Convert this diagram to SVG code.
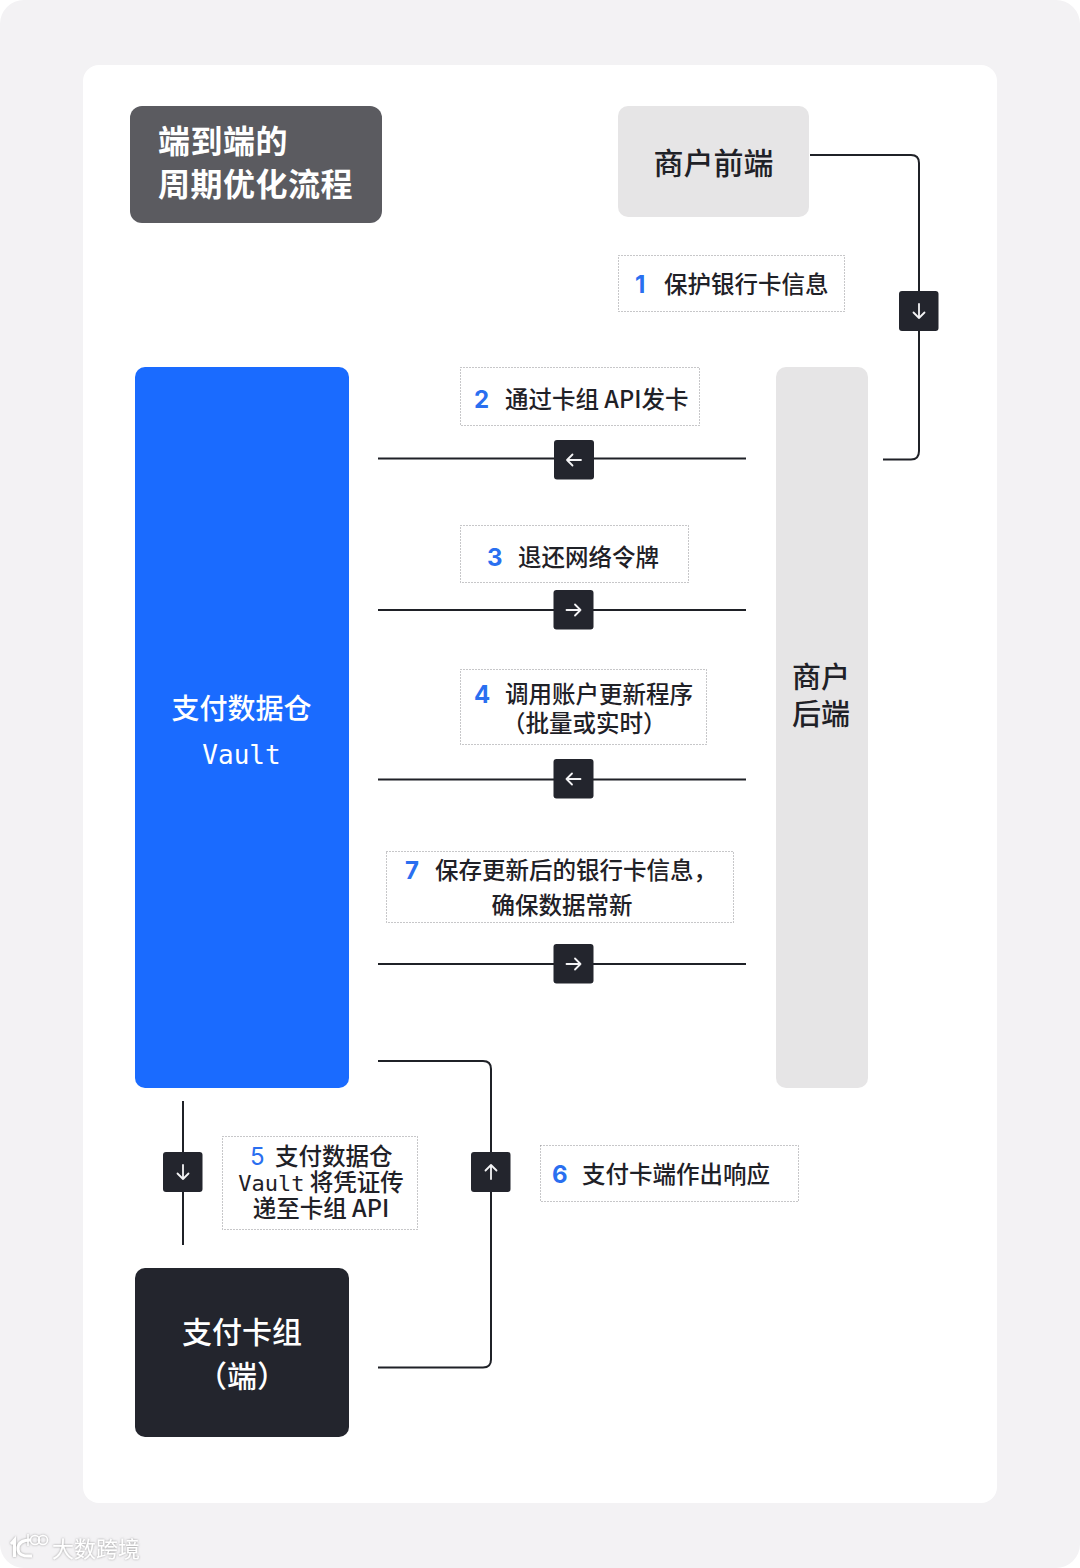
<svg xmlns="http://www.w3.org/2000/svg" width="1080" height="1568" viewBox="0 0 1080 1568">
<defs>
<style>
text{font-family:"Noto Sans CJK SC","Noto Sans",sans-serif;fill:#1f2127}
.lb{font-size:23.500px;font-weight:500}
.m{text-anchor:middle}
.n{fill:#2a6ff0;font-family:"Inter","Noto Sans",sans-serif;font-weight:700;font-size:24px}
.mono{font-family:"DejaVu Sans Mono",monospace}
.dot{fill:#fff;stroke:#8f8f93;stroke-width:1;stroke-dasharray:1 2}
.ln{fill:none;stroke:#1f2127;stroke-width:2}
.bt{fill:#23252d}
.ar{fill:none;stroke:#f4f4f6;stroke-width:1.800;stroke-linecap:round;stroke-linejoin:round}
</style>
<filter id="wm" x="-10%" y="-20%" width="120%" height="140%"><feDropShadow dx="0" dy="0" stdDeviation="1.200" flood-color="#8a8a8a" flood-opacity=".9"/></filter>
<g id="arrow-down"><rect class="bt" x="-20" y="-20" width="39.500" height="40" rx="3"/><path class="ar" d="M0-7V7M-5.500 1.500L0 7L5.500 1.500"/></g>
<g id="arrow-up"><rect class="bt" x="-20" y="-20" width="39.500" height="40" rx="3"/><path class="ar" d="M0 7V-7M-5.500-1.500L0-7L5.500-1.500"/></g>
<g id="arrow-left"><rect class="bt" x="-20" y="-20" width="40" height="39.500" rx="3"/><path class="ar" d="M7 0H-7M-1.500-5.500L-7 0L-1.500 5.500"/></g>
<g id="arrow-right"><rect class="bt" x="-20" y="-20" width="40" height="39.500" rx="3"/><path class="ar" d="M-7 0H7M1.500-5.500L7 0L1.500 5.500"/></g>
</defs>
<rect width="1080" height="1568" rx="24" fill="#f3f2f4"/>
<rect x="83" y="65" width="914" height="1438" rx="16" fill="#fff"/>

<g id="connectors">
<path class="ln" d="M810 155H911Q919 155 919 163V451Q919 459.500 911 459.500H883"/>
<path class="ln" d="M378 458.500H746"/>
<path class="ln" d="M378 610H746"/>
<path class="ln" d="M378 779.500H746"/>
<path class="ln" d="M378 964H746"/>
<path class="ln" d="M378 1061H483Q491 1061 491 1069V1359.500Q491 1367.500 483 1367.500H378"/>
<path class="ln" d="M183 1101V1245"/>
<use href="#arrow-down" x="919" y="311"/>
<use href="#arrow-left" x="574" y="460"/>
<use href="#arrow-right" x="573.500" y="610"/>
<use href="#arrow-left" x="573.500" y="779"/>
<use href="#arrow-right" x="573.500" y="964"/>
<use href="#arrow-down" x="183" y="1172"/>
<use href="#arrow-up" x="491" y="1172"/>
</g>

<g id="title"><rect x="130" y="106" width="252" height="117" rx="12" fill="#5b5b60"/>
<text x="158" y="153" font-size="32" font-weight="700" letter-spacing="0.500" style="fill:#fff">端到端的</text>
<text x="158" y="196" font-size="32" font-weight="700" letter-spacing="0.500" style="fill:#fff">周期优化流程</text></g>

<g id="merchant-frontend"><rect x="618" y="106" width="191" height="111" rx="10" fill="#e6e5e6"/>
<text class="m" x="713.500" y="174" font-size="30" font-weight="500">商户前端</text></g>

<g id="vault"><rect x="135" y="367" width="214" height="721" rx="10" fill="#1a6bff"/>
<text class="m" x="241.500" y="719" font-size="28" font-weight="500" style="fill:#fff">支付数据仓</text>
<text class="m mono" x="241.500" y="764" font-size="26" font-weight="500" style="fill:#fff">Vault</text></g>

<g id="merchant-backend"><rect x="776" y="367" width="92" height="721" rx="10" fill="#e6e5e6"/>
<text x="792" y="688" font-size="29" font-weight="500">商户</text>
<text x="792" y="725" font-size="29" font-weight="500">后端</text></g>

<g id="card-network"><rect x="135" y="1268" width="214" height="169" rx="10" fill="#23252d"/>
<text class="m" x="242" y="1343" font-size="30" font-weight="500" style="fill:#fff">支付卡组</text>
<text class="m" x="242" y="1387" font-size="30" font-weight="500" style="fill:#fff">（端）</text></g>

<g id="label-1"><rect class="dot" x="618.500" y="255.500" width="226" height="56"/>
<text class="n" x="635" y="293">1</text><text class="lb" x="664" y="293">保护银行卡信息</text></g>

<g id="label-2"><rect class="dot" x="460.500" y="367.500" width="239" height="58"/>
<text class="n" x="474" y="408">2</text><text class="lb" x="505" y="408">通过卡组 API发卡</text></g>

<g id="label-3"><rect class="dot" x="460.500" y="525.500" width="228" height="57"/>
<text class="n" x="487" y="566">3</text><text class="lb" x="518" y="566">退还网络令牌</text></g>

<g id="label-4"><rect class="dot" x="460.500" y="669.500" width="246" height="75"/>
<text class="n" x="474" y="703">4</text><text class="lb" x="505" y="703">调用账户更新程序</text>
<text class="lb" x="502" y="732">（批量或实时）</text></g>

<g id="label-7"><rect class="dot" x="386.500" y="851.500" width="347" height="71"/>
<text class="n" x="405" y="879">7</text><text class="lb" x="435" y="879">保存更新后的银行卡信息，</text>
<text class="lb m" x="562" y="914">确保数据常新</text></g>

<g id="label-5"><rect class="dot" x="222.500" y="1136.500" width="195" height="93"/>
<text class="n" x="250" y="1165" style="font-weight:400">5</text><text class="lb" x="275" y="1165">支付数据仓</text>
<text class="lb m" x="321" y="1191"><tspan class="mono" font-size="22">Vault</tspan> 将凭证传</text>
<text class="lb m" x="321" y="1217">递至卡组 API</text></g>

<g id="label-6"><rect class="dot" x="540.500" y="1145.500" width="258" height="56"/>
<text class="n" x="552" y="1183">6</text><text class="lb" x="582" y="1183">支付卡端作出响应</text></g>

<g id="watermark" filter="url(#wm)">
<path d="M11 1544L14.500 1540V1557" fill="none" stroke="#fff" stroke-width="3"/>
<path d="M30 1540Q18 1540 18 1549Q18 1557 32 1556" fill="none" stroke="#fff" stroke-width="3"/>
<path d="M28 1534V1546" fill="none" stroke="#fff" stroke-width="1.500"/>
<circle cx="35" cy="1540" r="4.500" fill="none" stroke="#fff" stroke-width="1.500"/><circle cx="43" cy="1540" r="4.500" fill="none" stroke="#fff" stroke-width="1.500"/>
<text x="52" y="1557" font-size="22" style="fill:#fff">大数跨境</text>
</g>
</svg>
